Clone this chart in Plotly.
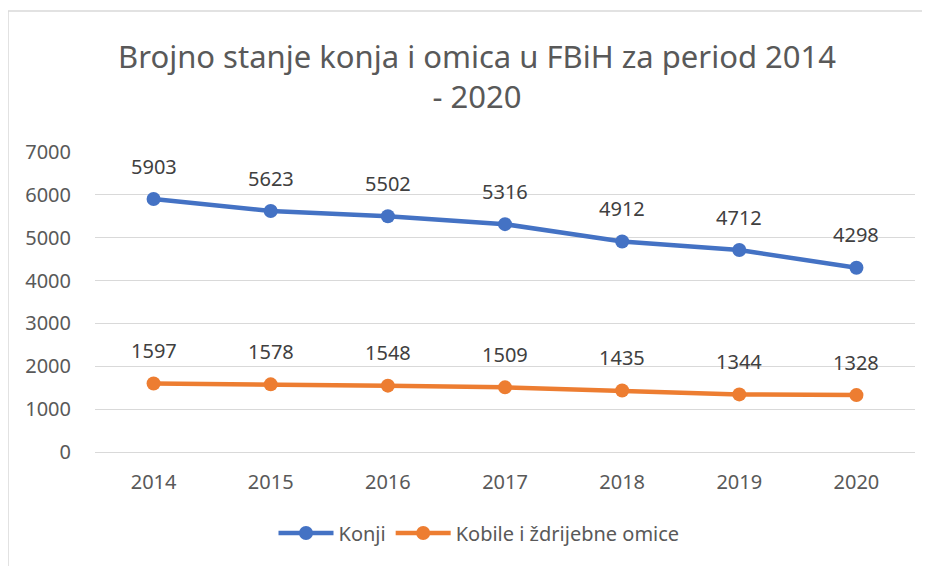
import plotly.graph_objects as go

years = ["2014", "2015", "2016", "2017", "2018", "2019", "2020"]
konji = [5903, 5623, 5502, 5316, 4912, 4712, 4298]
kobile = [1597, 1578, 1548, 1509, 1435, 1344, 1328]
y_ticks = [0, 1000, 2000, 3000, 4000, 5000, 6000, 7000]

BLUE = "#4472C4"
ORANGE = "#ED7D31"
FONT = "Noto Sans"

W, H = 922, 558  # page body has an 8px margin
L, R, T, B = 87, 15, 144, 114

fig = go.Figure()
fig.add_trace(go.Scatter(x=years, y=konji, name="Konji", mode="lines+markers",
                         line=dict(color=BLUE, width=4.5), marker=dict(size=14, color=BLUE)))
fig.add_trace(go.Scatter(x=years, y=kobile, name="Kobile i ždrijebne omice", mode="lines+markers",
                         line=dict(color=ORANGE, width=4.5), marker=dict(size=14, color=ORANGE)))

ann = []
for series in (konji, kobile):
    for i, v in enumerate(series):
        ann.append(dict(x=i, y=v, xref="x", yref="y", text=str(v), showarrow=False, yshift=33,
                        font=dict(family=FONT, size=20, color="#404040")))

fig.update_layout(
    width=W, height=H,
    margin=dict(l=L, r=R, t=T, b=B),
    paper_bgcolor="white", plot_bgcolor="white",
    title=dict(text="Brojno stanje konja i omica u FBiH za period 2014<br>- 2020",
               x=469/W, xanchor="center", y=1-60/H, yanchor="top",
               font=dict(family=FONT, size=31, color="#595959")),
    xaxis=dict(type="category", range=[-0.5, 6.5], showgrid=False, showline=False,
               ticks="", tickfont=dict(family=FONT, size=20, color="#595959"),
               ticklabelstandoff=16),
    yaxis=dict(range=[0, 7000], tickvals=y_ticks, showgrid=True, gridcolor="#D9D9D9",
               gridwidth=1, zeroline=True, zerolinecolor="#D9D9D9", zerolinewidth=1,
               showline=False, ticks="", tickfont=dict(family=FONT, size=20, color="#595959"),
               ticklabelstandoff=23),
    legend=dict(orientation="h", x=471/W, xanchor="center", xref="container",
                y=1-525/H, yanchor="middle", yref="container",
                font=dict(family=FONT, size=20, color="#595959"),
                itemwidth=55, traceorder="normal"),
    annotations=ann,
    shapes=[dict(type="rect", xref="paper", yref="paper",
                 x0=(0-L)/820, x1=1.2, y0=-0.6, y1=(444-3)/300,
                 line=dict(color="#D9D9D9", width=1.5), layer="below")],
)

fig.write_html("out.html")
